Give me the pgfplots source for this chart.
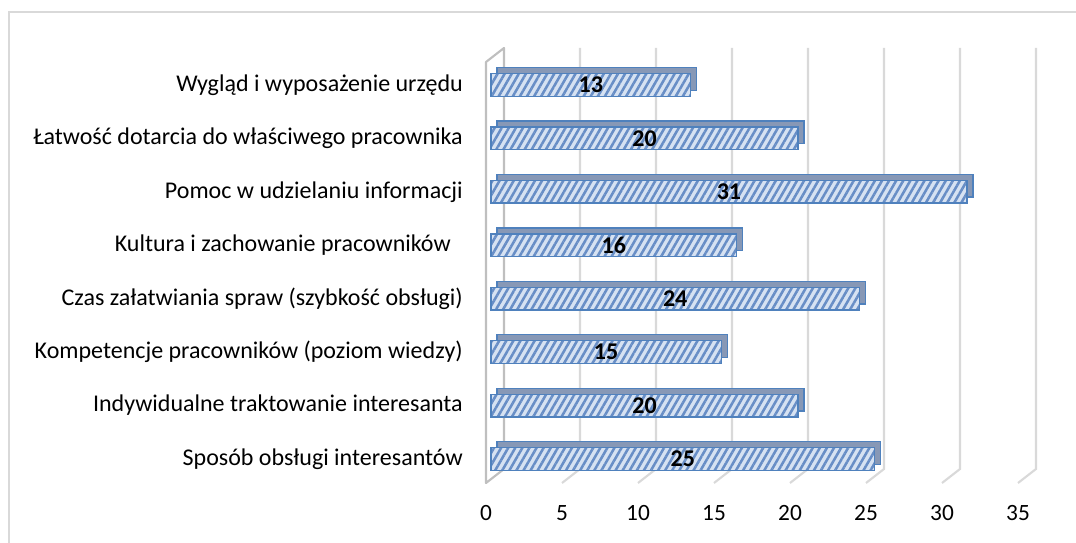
\documentclass[border=0pt]{standalone}
\usepackage{fontspec}
\setmainfont{Carlito}
\usepackage{pgfplots}
\usepackage{pgfplotstable}
\pgfplotsset{compat=1.18}
\usetikzlibrary{patterns.meta}
\pgfplotsset{/pgf/number format/assume math mode=true}
\definecolor{gridgray}{RGB}{217,217,217}
\definecolor{wallgray}{RGB}{191,191,191}
\definecolor{barfill}{RGB}{214,226,242}
\definecolor{barstripe}{RGB}{104,142,198}
\definecolor{barborder}{RGB}{79,129,189}
\definecolor{barback}{RGB}{135,152,182}
\pgfplotstableread{
pos val
0 25
1 20
2 15
3 24
4 16
5 31
6 20
7 13
}\datatable
\newcommand{\lblfont}{\fontsize{18}{21}\selectfont}
\newcommand{\tickfont}{\fontsize{17.5}{21}\selectfont}
\begin{document}
\begin{tikzpicture}
\path[use as bounding box] (0,0) rectangle (807pt,407.25pt);
\draw[gridgray, line width=1.5pt] (6.75pt,-2pt) -- (6.75pt,398.25pt) -- (810pt,398.25pt);
% grid / tick axis (front plane)
\begin{axis}[at={(364.5pt,45pt)}, anchor=south west, scale only axis,
  width=399pt, height=315.75pt, xmin=0, xmax=35, ymin=0, ymax=1,
  axis line style={draw=none}, ytick=\empty, xtick={0,5,...,35},
  major tick length=0pt, clip=false,
  xticklabel style={anchor=center, yshift=-22.5pt, font=\tickfont}]
\pgfplotsinvokeforeach{5,10,...,35}{
  \draw[gridgray, line width=1.6pt] (axis cs:#1,0) -- ([shift={(13.5pt,10.5pt)}]axis cs:#1,0) -- ([shift={(13.5pt,10.5pt)}]axis cs:#1,1);
}
\draw[wallgray, line width=1.6pt, line join=round] (axis cs:0,1) -- (axis cs:0,0) -- ([shift={(13.5pt,10.5pt)}]axis cs:0,0) -- ([shift={(13.5pt,10.5pt)}]axis cs:0,1) -- cycle;
\end{axis}
% back faces of the bars
\begin{axis}[at={(372.75pt,47.48pt)}, anchor=south west, scale only axis,
  width=402.94pt, height=320.6pt, xmin=0, xmax=35, ymin=-0.5, ymax=7.5,
  axis line style={draw=none}, xtick=\empty, ytick=\empty, clip=false]
\addplot[xbar, bar width=17pt, fill=barback, draw=barborder, line width=1pt] table[x=val, y=pos]{\datatable};
\end{axis}
% front faces
\begin{axis}[at={(368.25pt,42.98pt)}, anchor=south west, scale only axis,
  width=402.94pt, height=320.6pt, xmin=0, xmax=35, ymin=-0.5, ymax=7.5,
  axis line style={draw=none}, xtick=\empty, ytick={0,...,7},
  yticklabels={Sposób obsługi interesantów, Indywidualne traktowanie interesanta, Kompetencje pracowników (poziom wiedzy), Czas załatwiania spraw (szybkość obsługi), Kultura i zachowanie pracowników\hspace*{9pt}, Pomoc w udzielaniu informacji, Łatwość dotarcia do właściwego pracownika, Wygląd i wyposażenie urzędu},
  major tick length=0pt, clip=false,
  yticklabel style={inner sep=0pt, xshift=-21pt, font=\lblfont}]
\addplot[xbar, bar width=17pt, fill=barfill, draw=barborder, line width=1pt,
  postaction={pattern={Lines[angle=60, distance=4.6pt, line width=1.9pt]}, pattern color=barstripe}]
  table[x=val, y=pos]{\datatable};
\addplot[draw=none, mark=none, forget plot, nodes near coords, point meta=explicit,
  every node near coord/.append style={anchor=center, font=\lblfont\bfseries, text=black}]
  table[x expr=\thisrow{val}/2, y=pos, meta=val]{\datatable};
\end{axis}
\end{tikzpicture}
\end{document}
